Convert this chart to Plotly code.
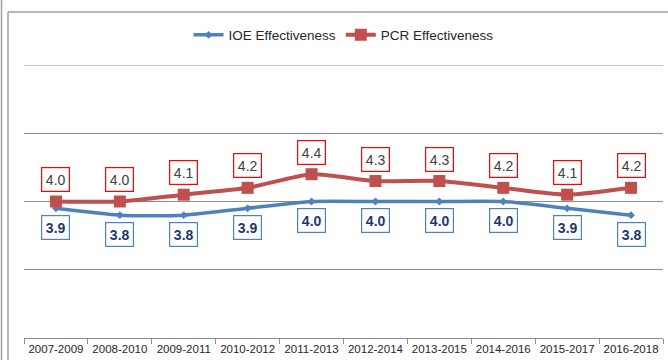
import plotly.graph_objects as go

# Rolling three-year periods and effectiveness ratings
periods = ["2007-2009", "2008-2010", "2009-2011", "2010-2012", "2011-2013",
           "2012-2014", "2013-2015", "2014-2016", "2015-2017", "2016-2018"]
ioe_effectiveness = [3.9, 3.8, 3.8, 3.9, 4.0, 4.0, 4.0, 4.0, 3.9, 3.8]
pcr_effectiveness = [4.0, 4.0, 4.1, 4.2, 4.4, 4.3, 4.3, 4.2, 4.1, 4.2]

W, H = 668, 360
ML, MR, MT, MB = 24, 5, 65, 22
PW, PH = W - ML - MR, H - MT - MB
Y_MIN, Y_MAX = 2, 6

FONT = "Liberation Sans"
IOE_COLOR = "#4F81BD"
PCR_COLOR = "#C0504D"
GRID = "#8C8C8C"


def px_x(p):
    return (p - ML) / PW


def px_y(p):
    return (H - MB - p) / PH


fig = go.Figure()
fig.add_trace(go.Scatter(
    x=periods, y=ioe_effectiveness, name="IOE Effectiveness",
    mode="lines+markers", line=dict(color=IOE_COLOR, width=3.5, shape="spline", smoothing=0.6),
    marker=dict(symbol="diamond", size=6, color=IOE_COLOR),
))
fig.add_trace(go.Scatter(
    x=periods, y=pcr_effectiveness, name="PCR Effectiveness",
    mode="lines+markers", line=dict(color=PCR_COLOR, width=4, shape="spline", smoothing=0.6),
    marker=dict(symbol="square", size=12, color=PCR_COLOR),
))

annotations = []
for p, v in zip(periods, pcr_effectiveness):
    annotations.append(dict(
        x=p, y=v, xref="x", yref="y", text=f"{v:.1f}", showarrow=False,
        yshift=22, font=dict(family=FONT, size=14, color="#404040"),
        bgcolor="white", bordercolor="#FF0000", borderwidth=1.2, borderpad=2,
        width=23, height=19,
    ))
for p, v in zip(periods, ioe_effectiveness):
    annotations.append(dict(
        x=p, y=v, xref="x", yref="y", text=f"<b>{v:.1f}</b>", showarrow=False,
        yshift=-19, font=dict(family=FONT, size=14, color="#1F3864"),
        bgcolor="white", bordercolor=IOE_COLOR, borderwidth=1.2, borderpad=2,
        width=23, height=19,
    ))

shapes = [
    # gridline along the top of the value range
    dict(type="line", xref="paper", yref="y", x0=0, x1=1, y0=Y_MAX, y1=Y_MAX,
         line=dict(color=GRID, width=1), layer="below"),
    # outer chart frame and left edge rule
    dict(type="line", xref="paper", yref="paper", x0=px_x(8), x1=px_x(W + 5),
         y0=px_y(12), y1=px_y(12), line=dict(color="#A0A0A0", width=1.5)),
    dict(type="line", xref="paper", yref="paper", x0=px_x(8), x1=px_x(8),
         y0=px_y(12), y1=px_y(H + 5), line=dict(color="#A0A0A0", width=1.5)),
    dict(type="line", xref="paper", yref="paper", x0=px_x(1.5), x1=px_x(1.5),
         y0=px_y(-5), y1=px_y(H + 5), line=dict(color="#A0A0A0", width=1.5)),
]

fig.update_layout(
    width=W, height=H,
    margin=dict(l=ML, r=MR, t=MT, b=MB, autoexpand=False),
    paper_bgcolor="white", plot_bgcolor="white",
    font=dict(family=FONT, color="#262626"),
    showlegend=True,
    legend=dict(orientation="h", x=0.5, xanchor="center", y=px_y(35), yanchor="middle",
                font=dict(family=FONT, size=13.5, color="#262626"),
                itemwidth=30, bgcolor="rgba(0,0,0,0)"),
    annotations=annotations,
    shapes=shapes,
    xaxis=dict(
        type="category", showgrid=False, showline=True, linecolor=GRID, linewidth=1,
        ticks="outside", tickson="boundaries", ticklen=5, tickcolor=GRID,
        tickangle=0, automargin=False,
        tickfont=dict(family=FONT, size=11.5, color="#262626"),
        range=[-0.5, len(periods) - 0.5], fixedrange=True,
    ),
    yaxis=dict(
        range=[Y_MIN, Y_MAX], dtick=1, tick0=0, showgrid=True, gridcolor=GRID, gridwidth=1,
        showticklabels=False, zeroline=False, showline=False, fixedrange=True,
        automargin=False,
    ),
)

fig.write_html("out.html")
